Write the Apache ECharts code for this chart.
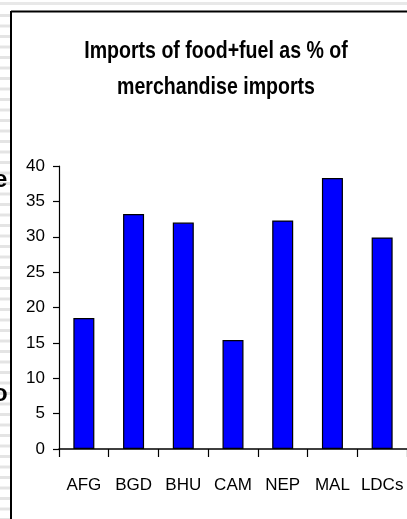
<!DOCTYPE html>
<html>
<head>
<meta charset="utf-8">
<script src="https://cdn.jsdelivr.net/npm/echarts@6/dist/echarts.min.js"></script>
<style>
  html, body { margin: 0; padding: 0; background: #ffffff; }
  #chart { width: 407px; height: 519px; }
</style>
</head>
<body>
<div id="chart"></div>
<script>
// Imports of food + fuel as a share of merchandise imports
const categories = ['AFG', 'BGD', 'BHU', 'CAM', 'NEP', 'MAL', 'LDCs'];
const shareValues = [18.5, 33.2, 32.0, 15.4, 32.3, 38.3, 29.9];
const titleLines = ['Imports of food+fuel as % of', 'merchandise imports'];

const sans = "'Liberation Sans', Arial, sans-serif";

// Slide-style backdrop: faint horizontal stripes outside the framed panel
const stripes = [];
stripes.push({ type: 'rect', shape: { x: 0, y: 2, width: 407, height: 3 }, style: { fill: '#e8e8e8' }, silent: true });
for (let y = 14; y < 519; y += 10.5) {
  stripes.push({ type: 'rect', shape: { x: 0, y: y, width: 10, height: 3 }, style: { fill: '#e4e4e4' }, silent: true });
}

// Condensed bold title, two centred lines
const titleTexts = titleLines.map((line, i) => ({
  type: 'text',
  x: 216,
  y: 51 + i * 36,
  scaleX: 0.815,
  originX: 0,
  style: {
    text: line,
    x: 0,
    y: 0,
    align: 'center',
    verticalAlign: 'middle',
    font: "bold 24px " + sans,
    fill: '#000000'
  },
  silent: true
}));

const chart = echarts.init(document.getElementById('chart'), null, { renderer: 'canvas' });
chart.setOption({
  backgroundColor: '#ffffff',
  animation: false,
  grid: { left: 59, right: -2, top: 166, bottom: 70, containLabel: false },
  xAxis: {
    type: 'category',
    data: categories,
    boundaryGap: true,
    axisLine: { lineStyle: { color: '#000000', width: 1.5 } },
    axisTick: { show: true, length: 8, inside: false, lineStyle: { color: '#000000', width: 1.2 } },
    axisLabel: { fontFamily: sans, fontSize: 17, color: '#000000', margin: 28, interval: 0 }
  },
  yAxis: {
    type: 'value',
    min: 0,
    max: 40,
    interval: 5,
    splitLine: { show: false },
    axisLine: { show: true, lineStyle: { color: '#000000', width: 1.2 } },
    axisTick: { show: true, length: 6, lineStyle: { color: '#000000', width: 1.2 } },
    axisLabel: { fontFamily: sans, fontSize: 17, color: '#000000', margin: 14 }
  },
  series: [{
    type: 'bar',
    data: shareValues,
    barWidth: 21,
    itemStyle: { color: '#0000ff', borderColor: '#000000', borderWidth: 1.2 }
  }],
  graphic: stripes.concat(titleTexts, [
    // panel frame: left and top edges
    { type: 'line', shape: { x1: 11, y1: 11.5, x2: 407, y2: 11.5 }, style: { stroke: '#000000', lineWidth: 2 }, silent: true },
    { type: 'line', shape: { x1: 11, y1: 11, x2: 11, y2: 519 }, style: { stroke: '#000000', lineWidth: 2 }, silent: true },
    // glyphs of neighbouring slide text, clipped at the edge
    { type: 'text', x: -6, y: 168, style: { text: 'e', font: "bold 24px " + sans, fill: '#000000' }, silent: true },
    { type: 'text', x: -7, y: 382, style: { text: 'o', font: "bold 24px " + sans, fill: '#000000' }, silent: true }
  ])
});
</script>
</body>
</html>
